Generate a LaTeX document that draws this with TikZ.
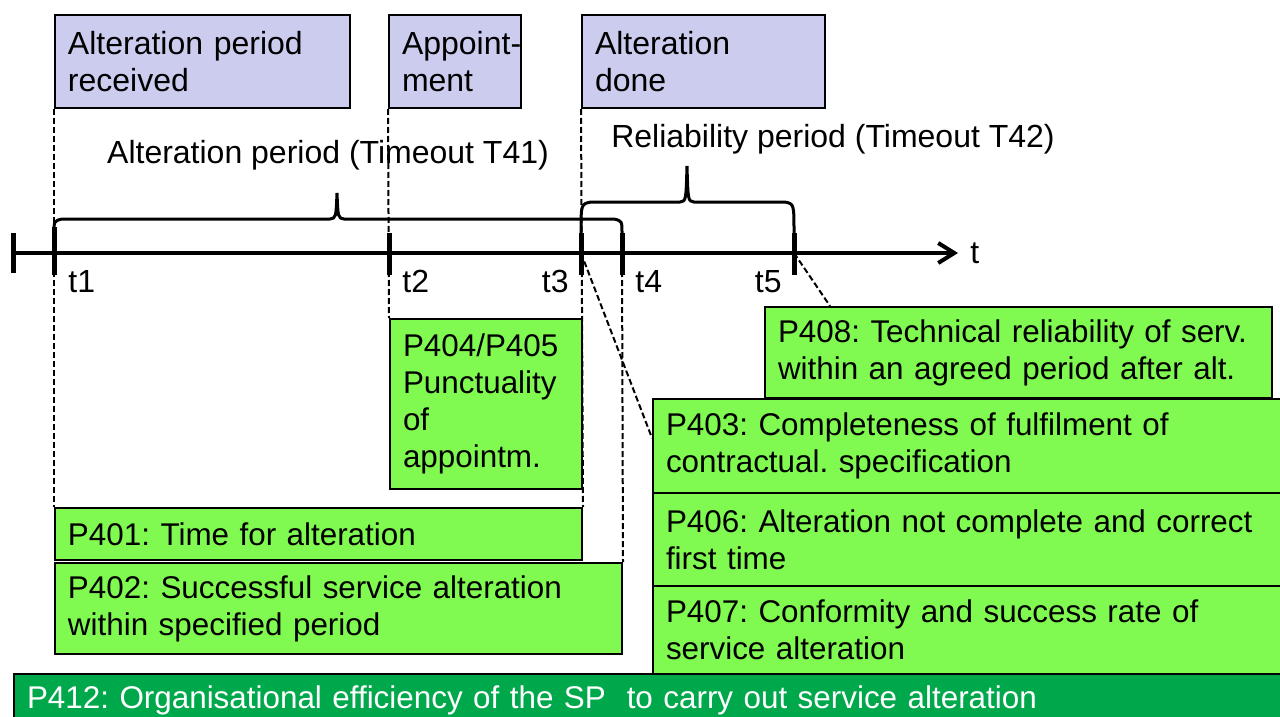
\documentclass[tikz,border=0pt]{standalone}
\usepackage{fontspec}
\setmainfont{Liberation Sans}
\usetikzlibrary{arrows.meta}
\hyphenpenalty=10000
\exhyphenpenalty=10000
\frenchspacing
\begin{document}
\begin{tikzpicture}[x=0.5pt,y=-0.5pt,
  font=\fontsize{16}{18.5}\selectfont,
  box/.style={draw, line width=1pt, anchor=north west, align=left, inner xsep=6.5pt, inner ysep=0pt},
  event/.style={box, fill=lightlav, minimum height=46.5pt},
  kpi/.style={box, fill=lightgreen, font=\fontsize{15.7}{18.5}\selectfont},
  guide/.style={line width=1pt, dash pattern=on 3pt off 1.5pt},
  brace/.style={line width=1.5pt},
  tick/.style={line width=2.5pt},
  tlabel/.style={inner sep=0pt}]
\definecolor{lightlav}{RGB}{204,204,238}
\definecolor{lightgreen}{RGB}{128,250,80}
\definecolor{darkgreen}{RGB}{0,168,76}
\useasboundingbox (0,0) rectangle (1280,717);
\clip (0,0) rectangle (1280,717);

\node[event, minimum width=147.5pt, text width=134.5pt] (recv) at (54,14) {Alteration period\\received};
\node[event, minimum width=66pt, text width=53pt] (appt) at (388,14) {Appoint-\\ment};
\node[event, minimum width=121.5pt, text width=108.5pt] (done) at (581,14) {Alteration\\done};

\node[kpi, minimum width=96pt, minimum height=85pt, text width=83pt] (p404) at (389,318) {P404/P405\\Punctuality\\of\\appointm.};
\node[kpi, minimum width=263.5pt, minimum height=26pt, text width=250.5pt] (p401) at (54,507) {P401: Time for alteration};
\node[kpi, minimum width=283.5pt, minimum height=45.5pt, text width=270.5pt] (p402) at (54,562) {P402: Successful service alteration\\within specified period};
\node[kpi, minimum width=253.5pt, minimum height=45.5pt, text width=240.5pt] (p408) at (764,306) {P408: Technical reliability of serv.\\within an agreed period after alt.};
\node[kpi, minimum width=319pt, minimum height=47pt, text width=306pt] (p403) at (652,398) {P403: Completeness of fulfilment of\\contractual. specification};
\node[kpi, minimum width=319pt, minimum height=46.5pt, text width=306pt] (p406) at (652,492) {P406: Alteration not complete and correct\\first time};
\node[kpi, minimum width=319pt, minimum height=44pt, text width=306pt] (p407) at (652,585) {P407: Conformity and success rate of\\service alteration};
\node[kpi, fill=darkgreen, text=white, minimum width=638.5pt, minimum height=26pt, text width=625.5pt] (p412) at (13,673) {P412: Organisational efficiency of the SP\ \ to carry out service alteration};

\coordinate (t0) at (13,253);
\coordinate (t1) at (54,253);
\coordinate (t2) at (389,253);
\coordinate (t3) at (581,253);
\coordinate (t4) at (622,253);
\coordinate (t5) at (794,253);
\coordinate (tend) at (958,253);

\node[tlabel, anchor=base] (per1) at (328,163) {Alteration period (Timeout T41)};
\node[tlabel, anchor=base] (per2) at (833,148) {Reliability period (Timeout T42)};
\node[tlabel, anchor=base west] (lt1) at (68,292) {t1};
\node[tlabel, anchor=base west] (lt2) at (402,292) {t2};
\node[tlabel, anchor=base east] (lt3) at (569,292) {t3};
\node[tlabel, anchor=base west] (lt4) at (635,292) {t4};
\node[tlabel, anchor=base east] (lt5) at (782,292) {t5};
\node[tlabel, anchor=base west] (lt) at (970,263) {t};

\draw[guide] (recv.south west) -- (p401.north west);
\draw[guide] (appt.south west) -- (p404.north west);
\draw[guide] (done.south west) -- (p401.north east);
\draw[guide] (t4) -- (p402.north east);
\draw[guide] (t3) -- ([yshift=4pt]p403.west);
\draw[guide] (t5) -- ([xshift=33pt]p408.north west);

\draw[line width=2pt, -{Straight Barb[length=8pt, width=10pt]}] (t0) -- (tend);
\draw[tick] ([yshift=10pt]t0) -- ([yshift=-10pt]t0);
\draw[tick] ([yshift=13pt]t1) -- ([yshift=-11pt]t1);
\draw[tick] ([yshift=10pt]t2) -- ([yshift=-11pt]t2);
\draw[tick] ([yshift=10pt]t3) -- ([yshift=-11pt]t3);
\draw[tick] ([yshift=10pt]t4) -- ([yshift=-11pt]t4);
\draw[tick] ([yshift=10pt]t5) -- ([yshift=-11pt]t5);

\draw[brace] (54,233) .. controls (54,221) .. (62,219) -- (330,219) .. controls (336,218) .. (337,193) .. controls (338,218) .. (344,219) -- (614,219) .. controls (622,221) .. (622,233);
\draw[brace] (581,233) .. controls (581,204) .. (591,202) -- (680,202) .. controls (686,201) .. (687,166) .. controls (688,201) .. (694,202) -- (785,202) .. controls (794,204) .. (794,233);
\end{tikzpicture}
\end{document}
